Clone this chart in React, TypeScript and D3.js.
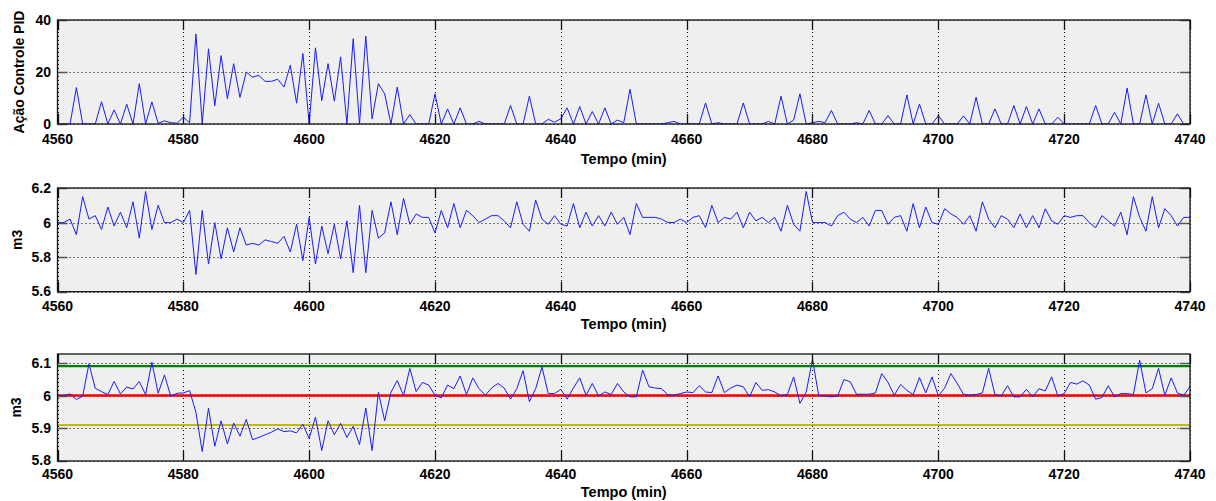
import React from "react";
import * as d3 from "d3";

// ---- Data (one sample per minute, 4560..4740) ----
const T_START = 4560;
const T_END = 4740;
const xTicks = [4560, 4580, 4600, 4620, 4640, 4660, 4680, 4700, 4720, 4740];

const controlAction = [
  0, 0, 0, 14, 0, 0, 0, 8.6, 0, 5.4,
  0, 7.6, 0, 15.5, 0, 8.5, 0.3, 1.2, 0.5, 0.3,
  2.6, 0.5, 34.6, 0, 28.9, 7, 26.3, 9.7, 23.2, 10.2,
  20, 18, 18.7, 16.4, 16.4, 17.2, 14.2, 22.6, 8, 27.1,
  0, 29.3, 9, 23.2, 8.8, 25.8, 0, 32.8, 0, 33.8,
  2, 15.5, 11.6, 0, 14.2, 0, 3.6, 0, 0, 0,
  11.6, 0, 5.8, 0, 6.2, 0, 0, 1, 0, 0,
  0, 0, 7.1, 0, 0, 10.7, 0, 0, 1.8, 0.7,
  2, 6.2, 0, 6.7, 0, 4.8, 0, 6.2, 0, 1.5,
  0.5, 13.4, 0, 0, 0, 0, 0, 0.5, 1, 0,
  0, 0, 0, 8.1, 0, 0.5, 0, 0, 0, 8.1,
  0, 0, 0, 1, 0, 10.7, 0, 1.5, 11.6, 0,
  0.5, 1, 0.5, 5.2, 0, 0, 0, 0.5, 0, 5.2,
  0, 0, 3.2, 0, 0, 11.2, 0, 7.7, 0, 0,
  3.2, 0, 0, 0, 3.1, 0, 10.3, 0, 0, 5.8,
  0, 0, 7.1, 0, 6.7, 0, 5.8, 0, 0, 2.6,
  0, 0, 0, 0, 0, 7.1, 0, 0, 4.5, 0,
  13.8, 0, 0, 11.2, 0, 8, 0, 0, 3.9, 0,
  0,
];

const level = [
  6.0, 6.0, 6.02, 5.93, 6.15, 6.02, 6.04, 5.96, 6.09, 5.98,
  6.06, 5.97, 6.12, 5.91, 6.18, 5.96, 6.10, 6.0, 6.0, 6.02,
  6.0, 6.07, 5.70, 6.07, 5.76, 6.0, 5.79, 5.97, 5.83, 5.97,
  5.87, 5.88, 5.87, 5.90, 5.89, 5.88, 5.92, 5.83, 5.99, 5.78,
  6.03, 5.76, 5.98, 5.82, 5.99, 5.79, 6.01, 5.71, 6.10, 5.71,
  6.07, 5.91, 5.94, 6.12, 5.93, 6.14, 5.99, 6.05, 6.03, 6.03,
  5.94, 6.07, 5.97, 6.11, 5.97, 6.07, 6.04, 6.0, 6.02, 6.04,
  6.04, 6.01, 5.97, 6.12, 5.99, 5.95, 6.13, 6.02, 5.99, 6.04,
  5.99, 5.98, 6.11, 5.97, 6.06, 5.98, 6.04, 5.98, 6.06, 5.99,
  6.03, 5.93, 6.11, 6.03, 6.03, 6.03, 6.02, 6.0, 6.0, 6.02,
  6.0, 6.03, 6.04, 5.97, 6.10, 6.0, 6.03, 6.02, 6.06, 5.97,
  6.06, 6.01, 6.03, 6.0, 6.03, 5.95, 6.10, 5.99, 5.95, 6.18,
  6.0, 6.0, 6.0, 5.98, 6.04, 6.06, 6.02, 6.0, 6.03, 5.98,
  6.07, 6.07, 5.99, 6.03, 6.04, 5.95, 6.11, 5.97, 6.09, 6.0,
  5.99, 6.08, 6.05, 6.03, 5.99, 6.04, 5.95, 6.12, 6.02, 5.97,
  6.04, 6.02, 5.97, 6.05, 5.97, 6.04, 5.97, 6.08, 6.01, 5.99,
  6.04, 6.03, 6.04, 6.04, 6.0, 5.97, 6.04, 6.01, 5.98, 6.06,
  5.93, 6.15, 6.03, 5.95, 6.15, 5.97, 6.08, 6.04, 5.98, 6.03,
  6.03,
];

const filteredLevel = [
  6.0, 6.0, 6.005, 5.988, 5.998, 6.097, 6.022, 6.012, 6.003, 6.043,
  6.005, 6.026, 6.02, 6.043, 6.003, 6.102, 6.007, 6.063, 5.998, 6.007,
  6.008, 6.015, 5.949, 5.829, 5.961, 5.845, 5.923, 5.852, 5.916, 5.876,
  5.927, 5.865, 5.872, 5.88, 5.888, 5.898, 5.89, 5.892, 5.886, 5.912,
  5.869, 5.934, 5.832, 5.923, 5.88, 5.915, 5.872, 5.906, 5.85, 5.962,
  5.832, 6.01, 5.923, 6.01, 6.046, 6.0, 6.083, 6.012, 6.04, 6.032,
  6.001, 5.993, 6.032, 6.021, 6.06, 6.003, 6.054, 6.021, 6.001, 6.023,
  6.037, 6.023, 5.989, 6.021, 6.076, 5.981, 6.021, 6.087, 6.006, 6.006,
  6.019, 5.989, 6.023, 6.054, 6.001, 6.037, 5.999, 6.011, 6.003, 6.037,
  6.011, 5.996, 5.996, 6.078, 6.027, 6.023, 6.021, 6.003, 6.001, 6.006,
  6.011, 6.009, 6.03, 6.011, 6.009, 6.06, 6.009, 6.023, 6.032, 6.027,
  5.996, 6.04, 6.016, 6.018, 6.011, 5.999, 6.003, 6.057, 5.976, 6.011,
  6.11, 5.999, 5.999, 5.996, 5.999, 6.049, 6.042, 6.004, 6.004, 6.004,
  6.008, 6.067, 6.04, 6.001, 6.034, 6.016, 6.003, 6.055, 6.008, 6.057,
  5.999, 6.023, 6.067, 6.037, 6.004, 6.001, 6.003, 6.008, 6.083, 6.003,
  5.999, 6.03, 5.996, 5.996, 6.019, 5.996, 6.021, 6.014, 6.057, 5.999,
  6.006, 6.04, 6.035, 6.045, 6.032, 5.989, 5.994, 6.03, 5.996, 6.006,
  6.006, 6.003, 6.108, 6.008, 6.021, 6.083, 6.001, 6.054, 6.008, 6.001,
  6.027,
];

const upperLimit = 6.09;
const setpoint = 6.0;
const lowerLimit = 5.91;

const ticks1 = [0, 20, 40];
const ticks2 = [5.6, 5.8, 6.0, 6.2];
const ticks3 = [5.8, 5.9, 6.0, 6.1];

const fmt = (v: number) => d3.format("~g")(v);

type HLine = { value: number; color: string; width: number };

type PanelProps = {
  data: number[];
  yDomain: [number, number];
  yTicks: number[];
  top: number;
  bottom: number;
  yLabel: string;
  yLabelX: number;
  tickLabelOffset: number;
  titleOffset: number;
  yTickDy: string;
  hlines?: HLine[];
};

const LEFT = 57.5;
const RIGHT = 1190;
const FONT = "'Liberation Sans', Arial, Helvetica, sans-serif";
const TICK = 10;

function Panel(p: PanelProps) {
  const x = d3.scaleLinear().domain([T_START, T_END]).range([LEFT, RIGHT]);
  const y = d3.scaleLinear().domain(p.yDomain).range([p.bottom, p.top]);
  const line = d3
    .line<number>()
    .x((_, i) => x(T_START + i))
    .y((d) => y(d));
  const clipId = `clip-${Math.round(p.top)}`;
  return (
    <g>
      <defs>
        <clipPath id={clipId}>
          <rect x={LEFT} y={p.top} width={RIGHT - LEFT} height={p.bottom - p.top} />
        </clipPath>
      </defs>
      <rect x={LEFT} y={p.top} width={RIGHT - LEFT} height={p.bottom - p.top} fill="#efefef" />
      {/* grid */}
      {xTicks.map((t) => (
        <line
          key={`gx${t}`}
          x1={Math.round(x(t)) + 0.5}
          x2={Math.round(x(t)) + 0.5}
          y1={p.top}
          y2={p.bottom}
          stroke="#000"
          strokeWidth={1}
          strokeDasharray="1,3"
        />
      ))}
      {p.yTicks.map((t) => (
        <line
          key={`gy${t}`}
          x1={LEFT}
          x2={RIGHT}
          y1={Math.round(y(t)) + 0.5}
          y2={Math.round(y(t)) + 0.5}
          stroke="#000"
          strokeWidth={1}
          strokeDasharray="1,3"
        />
      ))}
      <g clipPath={`url(#${clipId})`}>
        {(p.hlines || []).map((h) => (
          <line
            key={`h${h.value}`}
            x1={LEFT}
            x2={RIGHT}
            y1={y(h.value)}
            y2={y(h.value)}
            stroke={h.color}
            strokeWidth={h.width}
          />
        ))}
        <path d={line(p.data) || ""} fill="none" stroke="#1a1aff" strokeWidth={1} />
      </g>
      {/* ticks */}
      {xTicks.map((t) => {
        const xx = Math.round(x(t)) + 0.5;
        return (
          <g key={`tx${t}`}>
            <line x1={xx} x2={xx} y1={p.bottom} y2={p.bottom - TICK} stroke="#111" strokeWidth={1.3} />
            <line x1={xx} x2={xx} y1={p.top} y2={p.top + TICK} stroke="#111" strokeWidth={1.3} />
            <text
              x={x(t)}
              y={p.bottom + p.tickLabelOffset}
              textAnchor="middle"
              fontFamily={FONT}
              fontWeight="bold"
              fontSize={14}
              fill="#000"
            >
              {t}
            </text>
          </g>
        );
      })}
      {p.yTicks.map((t) => {
        const yy = Math.round(y(t)) + 0.5;
        return (
          <g key={`ty${t}`}>
            <line x1={LEFT} x2={LEFT + TICK} y1={yy} y2={yy} stroke="#555" strokeWidth={1.5} />
            <line x1={RIGHT} x2={RIGHT - TICK} y1={yy} y2={yy} stroke="#555" strokeWidth={1.5} />
            <text
              x={51}
              y={y(t)}
              dy={t === p.yDomain[0] ? p.yTickDy : "0.36em"}
              textAnchor="end"
              fontFamily={FONT}
              fontWeight="bold"
              fontSize={14}
              fill="#000"
            >
              {fmt(t)}
            </text>
          </g>
        );
      })}
      <rect
        x={LEFT}
        y={p.top}
        width={RIGHT - LEFT}
        height={p.bottom - p.top}
        fill="none"
        stroke="#111"
        strokeWidth={1.3}
      />
      <text
        x={(LEFT + RIGHT) / 2}
        y={p.bottom + p.titleOffset}
        textAnchor="middle"
        fontFamily={FONT}
        fontWeight="bold"
        fontSize={14.5}
        fill="#000"
      >
        Tempo (min)
      </text>
      <text
        transform={`translate(${p.yLabelX},${(p.top + p.bottom) / 2}) rotate(-90)`}
        textAnchor="middle"
        fontFamily={FONT}
        fontWeight="bold"
        fontSize={14}
        fill="#000"
      >
        {p.yLabel}
      </text>
    </g>
  );
}

export default function App() {
  return (
    <div style={{ position: "fixed", left: 0, top: 0, width: 1216, height: 501, background: "#fff" }}>
      <svg width={1216} height={501} style={{ display: "block" }}>
        <rect width={1216} height={501} fill="#fff" />
        <Panel
          data={controlAction}
          yDomain={[0, 40]}
          yTicks={ticks1}
          top={20}
          bottom={124}
          yLabel="Ação Controle PID"
          yLabelX={24}
          tickLabelOffset={20}
          titleOffset={39.5}
          yTickDy="0.36em"
        />
        <Panel
          data={level}
          yDomain={[5.6, 6.2]}
          yTicks={ticks2}
          top={188}
          bottom={291.7}
          yLabel="m3"
          yLabelX={21.5}
          tickLabelOffset={19}
          titleOffset={37.5}
          yTickDy="0.3em"
        />
        <Panel
          data={filteredLevel}
          yDomain={[5.8, 6.127]}
          yTicks={ticks3}
          top={354}
          bottom={461}
          yLabel="m3"
          yLabelX={21}
          tickLabelOffset={18}
          titleOffset={36}
          yTickDy="0.28em"
          hlines={[
            { value: upperLimit, color: "#008000", width: 2.2 },
            { value: setpoint, color: "#ff0000", width: 2.5 },
            { value: lowerLimit, color: "#c0bb00", width: 2.2 },
          ]}
        />
      </svg>
    </div>
  );
}
